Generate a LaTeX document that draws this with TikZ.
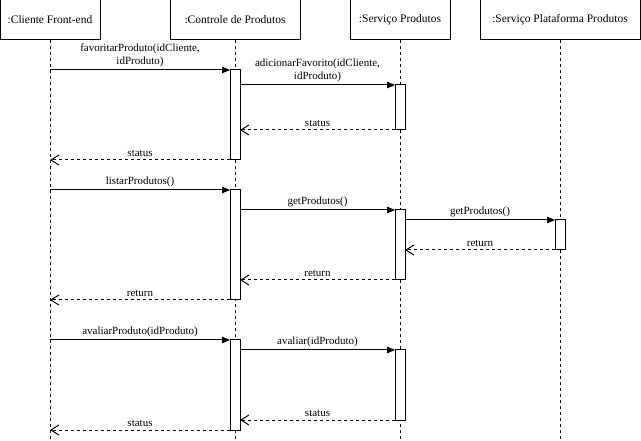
\documentclass[tikz,border=0pt]{standalone}
\usepackage{fontspec}
\setmainfont{Liberation Serif}
\usetikzlibrary{arrows.meta}
\tikzset{
  actor/.style={draw, line width=1pt, minimum height=40pt, inner sep=0pt, outer sep=0pt, font=\fontsize{11.5}{14}\selectfont},
  bar/.style={draw, fill=white, line width=1pt, minimum width=10pt, inner sep=0pt, outer sep=0pt, anchor=north},
  lifeline/.style={line width=1pt, dash pattern=on 3pt off 3pt},
  msg/.style={line width=1pt, -{Triangle[length=8pt,width=6.5pt]}},
  ret/.style={line width=1pt, dash pattern=on 3pt off 3pt, -{Straight Barb[length=8pt,width=10pt]}},
  lbl/.style={font=\fontsize{11}{13}\selectfont, inner sep=2.5pt, anchor=south, align=center, midway}
}
\begin{document}
\begin{tikzpicture}[x=1pt,y=-1pt]
\useasboundingbox (0,0) rectangle (641,441);
% headers
\node[actor, minimum width=100pt] (h1) at (50,20) {:Cliente Front-end};
\node[actor, minimum width=130pt] (h2) at (235,20) {:Controle de Produtos};
\node[actor, minimum width=100pt] (h3) at (400,20) {:Serviço Produtos};
\node[actor, minimum width=160pt] (h4) at (560,20) {:Serviço Plataforma Produtos};
% lifeline ends
\coordinate (e1) at (50,440);
\coordinate (e2) at (235,440);
\coordinate (e3) at (400,440);
\coordinate (e4) at (560,440);
\draw[lifeline] (h1.south) -- (e1);
\draw[lifeline] (h2.south) -- (e2);
\draw[lifeline] (h3.south) -- (e3);
\draw[lifeline] (h4.south) -- (e4);
% activation bars
\node[bar, minimum height=90pt] (b1) at (235,70) {};
\node[bar, minimum height=45pt] (b2) at (400,85) {};
\node[bar, minimum height=110pt] (b3) at (235,190) {};
\node[bar, minimum height=70pt] (b4) at (400,210) {};
\node[bar, minimum height=30pt] (b5) at (560,220) {};
\node[bar, minimum height=90pt] (b6) at (235,340) {};
\node[bar, minimum height=70pt] (b7) at (400,350) {};
% messages
\draw[msg] (h1 |- b1.north) -- node[lbl] (l1) {favoritarProduto(idCliente,\\idProduto)} (b1.north west);
\draw[msg] (b1.east |- b2.north) -- node[lbl] (l2) {adicionarFavorito(idCliente,\\idProduto)} (b2.north west);
\draw[ret] (b2.south west) -- node[lbl] (l3) {status} (b1.east |- b2.south);
\draw[ret] (b1.south west) -- node[lbl] (l4) {status} (h1 |- b1.south);
\draw[msg] (h1 |- b3.north) -- node[lbl] (l5) {listarProdutos()} (b3.north west);
\draw[msg] (b3.east |- b4.north) -- node[lbl] (l6) {getProdutos()} (b4.north west);
\draw[msg] (b4.east |- b5.north) -- node[lbl] (l7) {getProdutos()} (b5.north west);
\draw[ret] (b5.south west) -- node[lbl] (l8) {return} (b4.east |- b5.south);
\draw[ret] (b4.south west) -- node[lbl] (l9) {return} (b3.east |- b4.south);
\draw[ret] (b3.south west) -- node[lbl] (l10) {return} (h1 |- b3.south);
\draw[msg] (h1 |- b6.north) -- node[lbl] (l11) {avaliarProduto(idProduto)} (b6.north west);
\draw[msg] (b6.east |- b7.north) -- node[lbl] (l12) {avaliar(idProduto)} (b7.north west);
\draw[ret] (b7.south west) -- node[lbl] (l13) {status} (b6.east |- b7.south);
\draw[ret] (b6.south west) -- node[lbl] (l14) {status} (h1 |- b6.south);
\end{tikzpicture}
\end{document}
